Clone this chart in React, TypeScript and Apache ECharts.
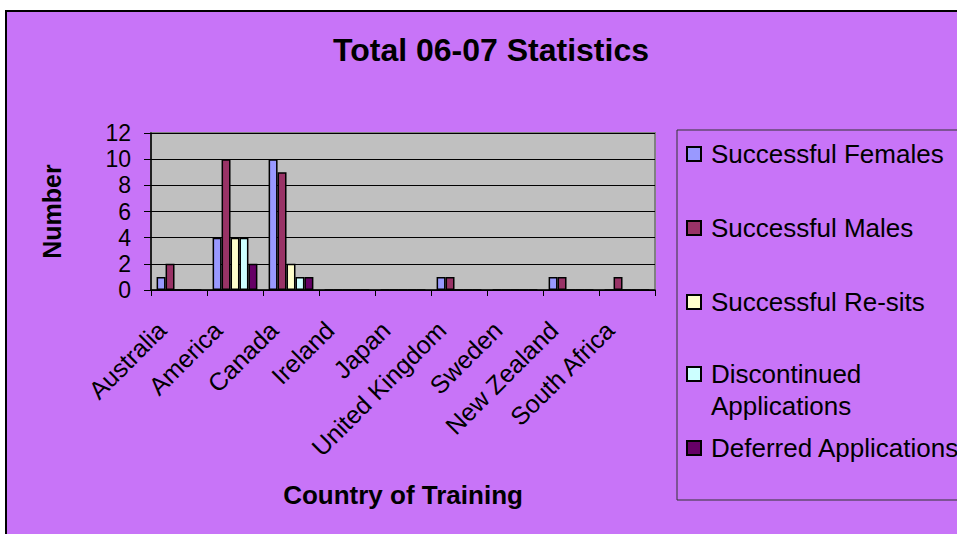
import React, { useEffect, useRef } from "react";
import * as echarts from "echarts";

const categories = [
  "Australia",
  "America",
  "Canada",
  "Ireland",
  "Japan",
  "United Kingdom",
  "Sweden",
  "New Zealand",
  "South Africa",
];

const seriesNames = [
  "Successful Females",
  "Successful Males",
  "Successful Re-sits",
  "Discontinued Applications",
  "Deferred Applications",
];

const successfulFemales = [1, 4, 10, 0, 0, 1, 0, 1, 0];
const successfulMales = [2, 10, 9, 0, 0, 1, 0, 1, 1];
const successfulResits = [0, 4, 2, 0, 0, 0, 0, 0, 0];
const discontinuedApplications = [0, 4, 1, 0, 0, 0, 0, 0, 0];
const deferredApplications = [0, 2, 1, 0, 0, 0, 0, 0, 0];

const seriesValues = [
  successfulFemales,
  successfulMales,
  successfulResits,
  discontinuedApplications,
  deferredApplications,
];

const seriesColors = ["#9999FF", "#993366", "#FFFFCC", "#CCFFFF", "#660066"];

const yTicks = { min: 0, max: 12, interval: 2 };

const FONT = "'Liberation Sans', Arial, sans-serif";

export default function App() {
  const ref = useRef<HTMLDivElement>(null);

  useEffect(() => {
    if (!ref.current) return;
    const chart = echarts.init(ref.current, null, { renderer: "svg" });

    const legendCenters = [154, 228, 302, 374, 448];

    const legends = seriesNames.map((name, i) => {
      const isDisc = i === 3;
      return {
        data: [name],
        orient: "vertical",
        left: 686,
        top: isDisc ? legendCenters[i] - 48 : legendCenters[i] - 16,
        padding: 0,
        itemWidth: 14,
        itemHeight: 14,
        icon: "rect",
        selectedMode: false,
        formatter: isDisc ? "\nDiscontinued\nApplications" : "{name}",
        textStyle: {
          fontFamily: FONT,
          fontSize: 26,
          color: "#000",
          lineHeight: 32,
          padding: [0, 0, 0, 5],
        },
      };
    });

    chart.setOption({
      animation: false,
      backgroundColor: "#C874F8",
      textStyle: { fontFamily: FONT },
      title: {
        text: "Total 06-07 Statistics",
        left: 333,
        top: 34,
        padding: 0,
        textStyle: {
          fontFamily: FONT,
          fontSize: 32,
          fontWeight: "bold",
          color: "#000",
        },
      },
      legend: legends,
      grid: {
        left: 151,
        top: 133,
        width: 504,
        height: 157,
        show: true,
        backgroundColor: "#C0C0C0",
        borderColor: "#808080",
        borderWidth: 2,
      },
      xAxis: {
        type: "category",
        data: categories,
        name: "Country of Training",
        nameLocation: "middle",
        nameGap: 192,
        nameTextStyle: {
          fontFamily: FONT,
          fontSize: 26,
          fontWeight: "bold",
          color: "#000",
        },
        axisLine: { show: true, lineStyle: { color: "#000", width: 1.5 } },
        axisTick: {
          show: true,
          alignWithLabel: false,
          length: 6,
          lineStyle: { color: "#000" },
        },
        axisLabel: {
          interval: 0,
          rotate: 45,
          margin: 53,
          verticalAlign: "bottom",
          padding: [0, 0, 12, 0],
          fontFamily: FONT,
          fontSize: 25,
          color: "#000",
        },
        splitLine: { show: false },
      },
      yAxis: {
        type: "value",
        min: yTicks.min,
        max: yTicks.max,
        interval: yTicks.interval,
        name: "Number",
        nameLocation: "middle",
        nameRotate: 90,
        nameGap: 87,
        nameTextStyle: {
          fontFamily: FONT,
          fontSize: 25,
          fontWeight: "bold",
          color: "#000",
        },
        axisLine: { show: true, lineStyle: { color: "#000", width: 1.5 } },
        axisTick: { show: true, length: 7, lineStyle: { color: "#000" } },
        axisLabel: {
          margin: 20,
          fontFamily: FONT,
          fontSize: 23,
          color: "#000",
        },
        splitLine: { show: true, lineStyle: { color: "#000", width: 1 } },
      },
      series: seriesNames.map((name, i) => ({
        name,
        type: "bar",
        data: seriesValues[i],
        barGap: "0%",
        barCategoryGap: "20%",
        itemStyle: {
          color: seriesColors[i],
          borderColor: "#000",
          borderWidth: 1.5,
        },
      })),
      graphic: [
        {
          type: "rect",
          shape: { x: 0, y: 0, width: 957, height: 10 },
          style: { fill: "#fff" },
          silent: true,
        },
        {
          type: "rect",
          shape: { x: 0, y: 0, width: 5, height: 534 },
          style: { fill: "#fff" },
          silent: true,
        },
        {
          type: "line",
          shape: { x1: 5, y1: 11, x2: 957, y2: 11 },
          style: { stroke: "#000", lineWidth: 2 },
          silent: true,
        },
        {
          type: "line",
          shape: { x1: 6, y1: 10, x2: 6, y2: 534 },
          style: { stroke: "#000", lineWidth: 2 },
          silent: true,
        },
        {
          type: "rect",
          shape: { x: 677, y: 130, width: 300, height: 370 },
          style: { fill: "none", stroke: "#333", lineWidth: 1 },
          silent: true,
        },
      ],
    });

    return () => chart.dispose();
  }, []);

  return (
    <div
      style={{
        position: "absolute",
        left: 0,
        top: 0,
        width: 957,
        height: 534,
        background: "#fff",
      }}
    >
      <div ref={ref} style={{ width: 957, height: 534 }} />
    </div>
  );
}
